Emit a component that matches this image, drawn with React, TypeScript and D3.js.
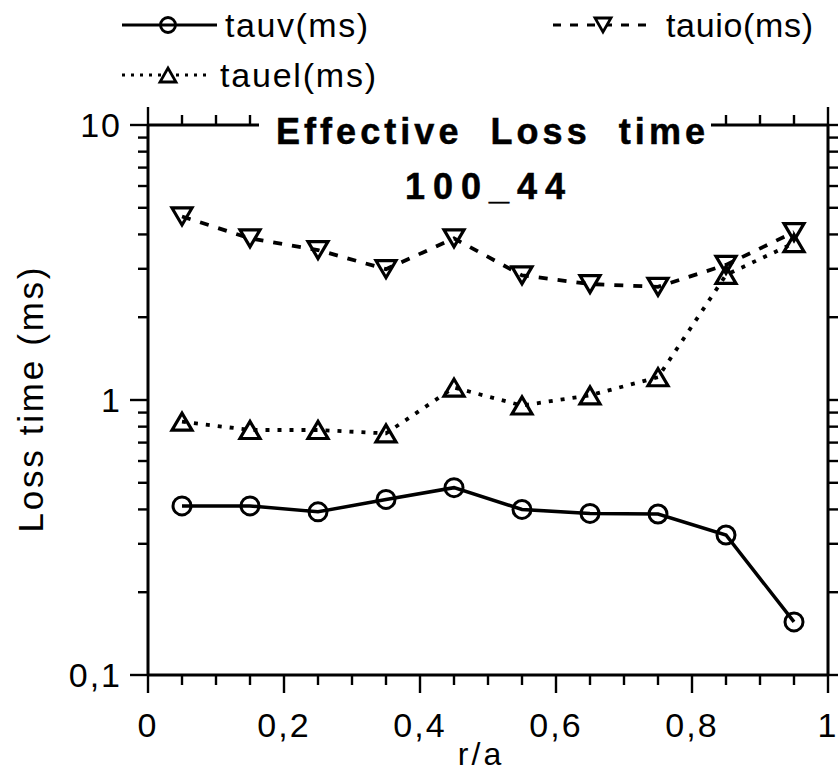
import React from "react";
import * as d3 from "d3";

const rOverA = [0.05, 0.15, 0.25, 0.35, 0.45, 0.55, 0.65, 0.75, 0.85, 0.95];
const tauv = [0.412, 0.412, 0.392, 0.435, 0.48, 0.4, 0.387, 0.385, 0.323, 0.156];
const tauel = [0.834, 0.778, 0.778, 0.756, 1.11, 0.955, 1.04, 1.21, 2.85, 3.72];
const tauio = [4.65, 3.87, 3.51, 2.99, 3.87, 2.84, 2.64, 2.58, 3.1, 4.08];
const xTickLabels = ["0", "0,2", "0,4", "0,6", "0,8", "1"];
const xTickValues = [0, 0.2, 0.4, 0.6, 0.8, 1];
const yTickLabels = ["0,1", "1", "10"];
const yTickValues = [0.1, 1, 10];

const FONT = "'Liberation Sans', Arial, Helvetica, sans-serif";

const W = 838;
const H = 774;
const x = d3.scaleLinear().domain([0, 1]).range([148, 828]);
const y = d3.scaleLog().domain([0.1, 10]).range([675, 125]);

function triPath(cx: number, cy: number, up: boolean, w = 20, h = 17) {
  if (up) {
    return `M${cx - w / 2},${cy + h / 2}L${cx + w / 2},${cy + h / 2}L${cx},${cy - h / 2}Z`;
  }
  return `M${cx - w / 2},${cy - h / 2}L${cx + w / 2},${cy - h / 2}L${cx},${cy + h / 2}Z`;
}

export default function App() {
  const line = d3
    .line<[number, number]>()
    .x((d) => x(d[0]))
    .y((d) => y(d[1]));
  const pts = (vals: number[]) => rOverA.map((r, i) => [r, vals[i]] as [number, number]);

  const xMinor = d3.range(0, 21).map((i) => i * 0.05);
  const yMinor: number[] = [];
  [0.1, 1].forEach((dec) => {
    for (let k = 2; k <= 9; k++) yMinor.push(dec * k);
  });

  const x0 = x(0), x1 = x(1), yTop = y(10), yBot = y(0.1);

  return (
    <div style={{ position: "fixed", left: 0, top: 0 }}>
      <svg width={W} height={H} style={{ display: "block", background: "#fff" }}>
        {/* frame */}
        <g stroke="#000" strokeWidth={3} fill="none">
          <line x1={x0} y1={yTop} x2={x1} y2={yTop} />
          <line x1={x0} y1={yBot} x2={x1} y2={yBot} />
          <line x1={x0} y1={yTop} x2={x0} y2={yBot} />
          <line x1={x1} y1={yTop} x2={x1} y2={yBot} />
        </g>
        {/* ticks */}
        <g stroke="#000" strokeWidth={2.4}>
          {xMinor.map((v, i) => {
            const major = i % 4 === 0;
            const len = major ? 18 : 10;
            return (
              <g key={"xt" + i}>
                <line x1={x(v)} x2={x(v)} y1={yBot} y2={yBot + len} />
                <line x1={x(v)} x2={x(v)} y1={yTop} y2={yTop - len} />
              </g>
            );
          })}
          {yMinor.map((v, i) => (
            <g key={"ym" + i}>
              <line x1={x0} x2={x0 - 10} y1={y(v)} y2={y(v)} />
              <line x1={x1} x2={x1 + 10} y1={y(v)} y2={y(v)} />
            </g>
          ))}
          {yTickValues.map((v, i) => (
            <g key={"yM" + i}>
              <line x1={x0} x2={x0 - 18} y1={y(v)} y2={y(v)} />
              <line x1={x1} x2={x1 + 18} y1={y(v)} y2={y(v)} />
            </g>
          ))}
        </g>
        {/* tick labels */}
        <g fontFamily={FONT} fontSize={34} fill="#000">
          {xTickValues.map((v, i) => (
            <text key={"xl" + i} x={x(v)} y={737} textAnchor="middle" letterSpacing={2}>
              {xTickLabels[i]}
            </text>
          ))}
          {yTickValues.map((v, i) => (
            <text key={"yl" + i} x={122} y={y(v) + 12} textAnchor="end" letterSpacing={2}>
              {yTickLabels[i]}
            </text>
          ))}
        </g>
        {/* axis titles */}
        <text x={481} y={765} textAnchor="middle" fontFamily={FONT} fontSize={32} letterSpacing={3}>
          r/a
        </text>
        <text
          transform="translate(43,400) rotate(-90)"
          x={0}
          y={0}
          textAnchor="middle"
          fontFamily={FONT}
          fontSize={35}
          textLength={265}
          lengthAdjust="spacing"
        >
          Loss time (ms)
        </text>
        {/* title with white background */}
        <rect x={259} y={104} width={452} height={44} fill="#fff" />
        <text
          x={276}
          y={144}
          fontFamily={FONT}
          fontSize={36}
          fontWeight="bold"
          stroke="#000"
          strokeWidth={0.5}
          textLength={429}
          lengthAdjust="spacing"
          style={{ whiteSpace: "pre" }}
        >
          {"Effective  Loss  time"}
        </text>
        <text
          x={405}
          y={199}
          fontFamily={FONT}
          fontSize={36}
          fontWeight="bold"
          stroke="#000"
          strokeWidth={0.5}
          textLength={160}
          lengthAdjust="spacing"
        >
          100_44
        </text>
        {/* series lines */}
        <path d={line(pts(tauv)) || ""} fill="none" stroke="#000" strokeWidth={3.5} />
        <path d={line(pts(tauio)) || ""} fill="none" stroke="#000" strokeWidth={3.8} strokeDasharray="9,10" />
        <path d={line(pts(tauel)) || ""} fill="none" stroke="#000" strokeWidth={3.8} strokeDasharray="4,8" />
        {/* markers */}
        {pts(tauv).map((p, i) => (
          <circle key={"c" + i} cx={x(p[0])} cy={y(p[1])} r={9} fill="none" stroke="#000" strokeWidth={3} />
        ))}
        {pts(tauio).map((p, i) => (
          <path key={"td" + i} d={triPath(x(p[0]), y(p[1]), false)} fill="none" stroke="#000" strokeWidth={3.2} />
        ))}
        {pts(tauel).map((p, i) => (
          <path key={"tu" + i} d={triPath(x(p[0]), y(p[1]), true)} fill="none" stroke="#000" strokeWidth={3.2} />
        ))}
        {/* legend */}
        <g fontFamily={FONT} fontSize={34} fill="#000">
          <line x1={122} x2={217} y1={25} y2={25} stroke="#000" strokeWidth={3} />
          <circle cx={168} cy={25} r={7.5} fill="none" stroke="#000" strokeWidth={2.8} />
          <text x={225} y={37} textLength={143} lengthAdjust="spacing">tauv(ms)</text>

          <line x1={553} x2={655} y1={25} y2={25} stroke="#000" strokeWidth={3} strokeDasharray="8,9" />
          <path d={triPath(603, 25, false, 16, 14)} fill="#fff" stroke="#000" strokeWidth={2.8} />
          <text x={666} y={37} textLength={147} lengthAdjust="spacing">tauio(ms)</text>

          <line x1={122} x2={210} y1={75} y2={75} stroke="#000" strokeWidth={3} strokeDasharray="3,6" />
          <path d={triPath(168, 75, true, 16, 14)} fill="#fff" stroke="#000" strokeWidth={2.8} />
          <text x={220} y={87} textLength={156} lengthAdjust="spacing">tauel(ms)</text>
        </g>
      </svg>
    </div>
  );
}
